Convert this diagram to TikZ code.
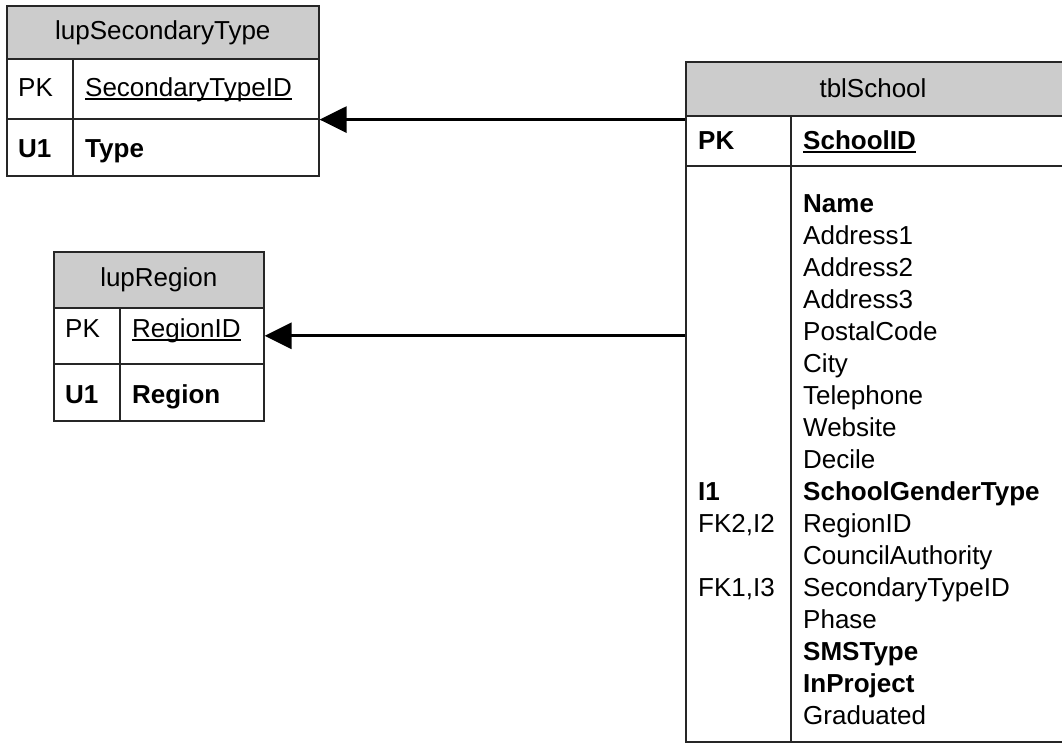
\documentclass[tikz,border=0pt]{standalone}
\usepackage{fontspec}
\setmainfont{Liberation Sans}
\usetikzlibrary{arrows.meta}
% key fields are underlined close under the baseline
\newsavebox{\keybox}
\newcommand{\keyfield}[1]{\sbox{\keybox}{#1}\rlap{\usebox{\keybox}}\rule[-4pt]{\wd\keybox}{1.6pt}}
\begin{document}
\begin{tikzpicture}[x=1pt,y=-1pt,
  tabrow/.style={draw=black!85, line width=1.6pt, inner sep=0pt, anchor=north west},
  tabhead/.style={tabrow, fill=black!20, font=\fontsize{26}{32}\selectfont},
  divider/.style={draw=black!85, line width=1.6pt},
  txt/.style={inner sep=0pt, anchor=base west, font=\fontsize{26}{32}\selectfont},
  fk/.style={line width=3pt, -{Triangle[length=27pt,width=26pt]}}]
\useasboundingbox (0,0) rectangle (1062,742);

% ---- lupSecondaryType ----
\node[tabhead, minimum width=312pt, minimum height=53pt] (st-h) at (6,5) {lupSecondaryType};
\node[tabrow, minimum width=312pt, minimum height=60pt] (st-pk) at (6,58) {};
\node[tabrow, minimum width=312pt, minimum height=57pt] (st-u1) at (6,118) {};
\draw[divider] (73,58) -- (73,175);
\node[txt] (st-k1) at (18,96) {PK};
\node[txt] (st-f1) at (85,96) {\keyfield{SecondaryTypeID}};
\node[txt] (st-k2) at (18,157) {\bfseries U1};
\node[txt] (st-f2) at (85,157) {\bfseries Type};

% ---- lupRegion ----
\node[tabhead, minimum width=210pt, minimum height=56pt] (rg-h) at (53,251) {lupRegion};
\node[tabrow, minimum width=210pt, minimum height=56pt] (rg-pk) at (53,307) {};
\node[tabrow, minimum width=210pt, minimum height=57pt] (rg-u1) at (53,363) {};
\draw[divider] (120,307) -- (120,420);
\node[txt] (rg-k1) at (65,337) {PK};
\node[txt] (rg-f1) at (132,337) {\keyfield{RegionID}};
\node[txt] (rg-k2) at (65,403) {\bfseries U1};
\node[txt] (rg-f2) at (132,403) {\bfseries Region};

% ---- tblSchool (runs past the right edge) ----
\node[tabhead, minimum width=381pt, minimum height=54pt] (sc-h) at (685,61) {};
\node[txt, anchor=center] (sc-title) at (873,88) {tblSchool};
\node[tabrow, minimum width=381pt, minimum height=50pt] (sc-pk) at (685,115) {};
\node[tabrow, minimum width=381pt, minimum height=576pt] (sc-body) at (685,165) {};
\draw[divider] (791,115) -- (791,741);
\node[txt] (sc-k0) at (698,149) {\bfseries PK};
\node[txt] (sc-f0) at (803,149) {\bfseries\keyfield{SchoolID}};

\foreach \name [count=\i] in {
  \bfseries Name, Address1, Address2, Address3, PostalCode, City,
  Telephone, Website, Decile, \bfseries SchoolGenderType, RegionID,
  CouncilAuthority, SecondaryTypeID, Phase, \bfseries SMSType,
  \bfseries InProject, Graduated}
  \node[txt] (sc-f\i) at (803,{212+32*(\i-1)}) {\name};

\node[txt] (sc-k10) at (698,{212+32*9}) {\bfseries I1};
\node[txt] (sc-k11) at (698,{212+32*10}) {FK2,I2};
\node[txt] (sc-k13) at (698,{212+32*12}) {FK1,I3};

% ---- relationships ----
\draw[fk] (st-pk.south east -| sc-h.west) -- (st-pk.south east);
\draw[fk] (rg-pk.east -| sc-h.west) -- (rg-pk.east);
\end{tikzpicture}
\end{document}
